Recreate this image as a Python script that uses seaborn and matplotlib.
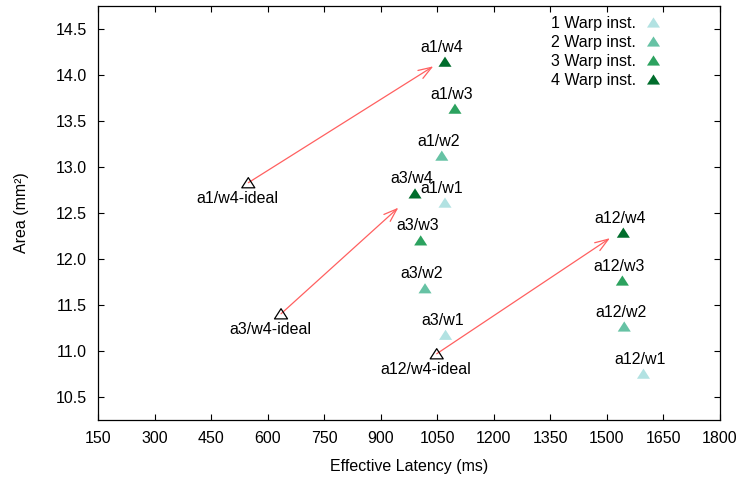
import matplotlib
matplotlib.use("Agg")
import matplotlib.pyplot as plt
from matplotlib.lines import Line2D
from matplotlib.path import Path
import seaborn as sns
import pandas as pd

# Measured design points: (configuration, warp instances) -> latency / area
labels = ["a1/w1", "a1/w2", "a1/w3", "a1/w4",
          "a3/w1", "a3/w2", "a3/w3", "a3/w4",
          "a12/w1", "a12/w2", "a12/w3", "a12/w4"]
warps = [1, 2, 3, 4, 1, 2, 3, 4, 1, 2, 3, 4]
latency = [1070.5, 1062, 1097, 1070.5,
           1072, 1017.5, 1006, 991,
           1597, 1546, 1541, 1543.6]
area = [12.61, 13.12, 13.63, 14.14,
        11.175, 11.68, 12.20, 12.71,
        10.753, 11.265, 11.764, 12.284]

# Ideal 4-warp scaling points and where their arrows point
ideal_labels = ["a1/w4-ideal", "a3/w4-ideal", "a12/w4-ideal"]
ideal_latency = [548.7, 635.5, 1048.5]
ideal_area = [12.826, 11.403, 10.969]
arrow_end_latency = [1039.5, 946.7, 1508]
arrow_end_area = [14.09, 12.555, 12.224]

warp_names = ["1 Warp inst.", "2 Warp inst.", "3 Warp inst.", "4 Warp inst."]
warp_colors = ["#b2e2e2", "#66c2a4", "#2ca25f", "#006d2c"]
xticks = [150, 300, 450, 600, 750, 900, 1050, 1200, 1350, 1500, 1650, 1800]
yticks = [10.5, 11.0, 11.5, 12.0, 12.5, 13.0, 13.5, 14.0, 14.5]

sns.set_style("ticks")
plt.rcParams["font.family"] = ["Liberation Sans", "DejaVu Sans"]
plt.rcParams["font.size"] = 11.5
plt.rcParams["text.color"] = "black"
plt.rcParams["axes.labelcolor"] = "black"
plt.rcParams["xtick.color"] = "black"
plt.rcParams["ytick.color"] = "black"

# Slightly flattened triangle marker
tri = Path([(0, 0.78), (-1, -0.78), (1, -0.78), (0, 0.78)],
           [Path.MOVETO, Path.LINETO, Path.LINETO, Path.CLOSEPOLY])
msize = 9.4

fig = plt.figure(figsize=(7.42, 4.83), dpi=100)
ax = fig.add_axes([98 / 742, 1 - 420 / 483, 622 / 742, 414.5 / 483])

df = pd.DataFrame({"latency": latency, "area": area, "warp": warps, "label": labels})
palette = {w: c for w, c in zip([1, 2, 3, 4], warp_colors)}
sns.scatterplot(data=df, x="latency", y="area", hue="warp", palette=palette,
                marker=tri, s=msize ** 2, linewidth=0, legend=False, ax=ax, zorder=3)

ideal_df = pd.DataFrame({"latency": ideal_latency, "area": ideal_area})
sns.scatterplot(data=ideal_df, x="latency", y="area", marker=tri, s=msize ** 2,
                facecolor="none", edgecolor="black", linewidth=0.9, ax=ax, zorder=3)

for x, y, t in zip(latency, area, labels):
    ax.annotate(t, (x, y), xytext=(-3, 10), textcoords="offset pixels",
                ha="center", va="baseline", fontsize=11.5)
for x, y, t in zip(ideal_latency, ideal_area, ideal_labels):
    ax.annotate(t, (x, y), xytext=(-11, -20), textcoords="offset pixels",
                ha="center", va="baseline", fontsize=11.5)

for x0, y0, x1, y1 in zip(ideal_latency, ideal_area, arrow_end_latency, arrow_end_area):
    ax.annotate("", xy=(x1, y1), xytext=(x0, y0),
                arrowprops=dict(arrowstyle="->,head_length=0.8,head_width=0.28",
                                color="#ff6060", lw=0.9, shrinkA=0, shrinkB=0,
                                mutation_scale=12), zorder=2)

ax.set_xlim(150, 1800)
ax.set_ylim(10.25, 14.75)
ax.set_xticks(xticks)
ax.set_xticklabels([str(v) for v in xticks])
ax.set_yticks(yticks)
ax.set_yticklabels([f"{v:.1f}" for v in yticks])
ax.tick_params(direction="in", length=4.3, width=0.8, top=True, right=True,
               labelsize=11.5, pad=8, color="black", labelcolor="black")
for sp in ax.spines.values():
    sp.set_visible(True)
    sp.set_linewidth(0.9)
    sp.set_color("black")

ax.set_xlabel("Effective Latency (ms)", fontsize=11.5)
ax.set_ylabel("Area (mm²)", fontsize=11.5)
ax.xaxis.set_label_coords(0.5, (420 - 466) / 414.5)
ax.xaxis.label.set_va("center")
ax.yaxis.set_label_coords((22 - 98) / 622, 0.5)
ax.yaxis.label.set_va("center")

handles = [Line2D([], [], marker=tri, linestyle="none", markersize=msize,
                  markerfacecolor=c, markeredgewidth=0) for c in warp_colors]
ax.legend(handles, warp_names, loc="upper right",
          bbox_to_anchor=((663 - 98) / 622, (420 - 16) / 414.5),
          frameon=False, markerfirst=False, handlelength=1.2, handletextpad=0.5,
          labelspacing=0.25, borderpad=0, borderaxespad=0, fontsize=11.5)

fig.savefig("out.png", dpi=100)
